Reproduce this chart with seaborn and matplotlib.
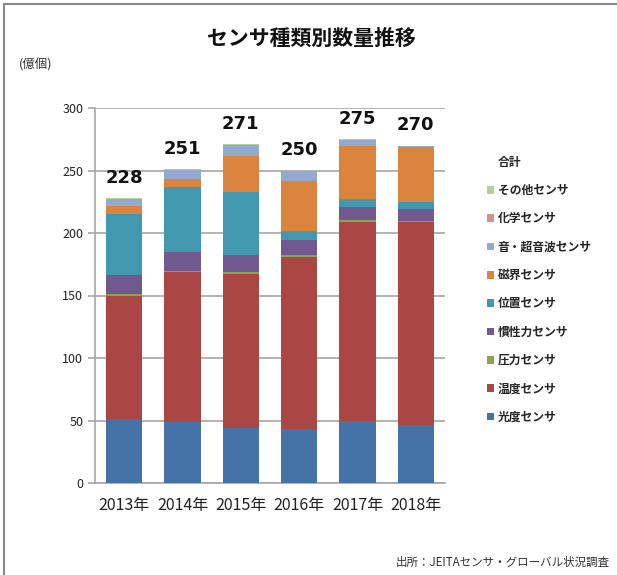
import matplotlib
matplotlib.use("Agg")
import matplotlib.pyplot as plt
from matplotlib.patches import Patch
from matplotlib.lines import Line2D
import numpy as np
import pandas as pd
import seaborn as sns

sns.set_theme(style="white")
plt.rcParams['font.family'] = ['Noto Sans CJK JP', 'DejaVu Sans']

years = ["2013年", "2014年", "2015年", "2016年", "2017年", "2018年"]
series_names = ["光度センサ", "温度センサ", "圧力センサ", "慣性力センサ", "位置センサ",
                "磁界センサ", "音・超音波センサ", "化学センサ", "その他センサ"]
light = [51, 48.5, 44, 43, 50, 46.5]
temperature = [99, 120, 123, 138, 159, 162]
pressure = [1.5, 1.5, 1.5, 1.5, 1.5, 1.5]
inertia = [15, 14.5, 14, 12, 10, 9]
position = [49, 52, 50, 7, 6.5, 5.5]
magnetic = [6.5, 7, 29.5, 40, 43, 44]
sound = [5, 7, 8.5, 8, 4.5, 1]
chemical = [0.5, 0.3, 0.3, 0.3, 0.3, 0.3]
other = [0.5, 0.2, 0.2, 0.2, 0.2, 0.2]
totals = [228, 251, 271, 250, 275, 270]
colors = ["#4572A7", "#AA4643", "#89A54E", "#71588F", "#4198AF",
          "#DB843D", "#93A9CF", "#D19392", "#B9CD96"]

series = [light, temperature, pressure, inertia, position, magnetic, sound, chemical, other]
cum = np.cumsum(np.array(series, dtype=float), axis=0)

fig = plt.figure(figsize=(6.17, 5.75), dpi=100)
ax = fig.add_axes([95/617, 1-483/575, 350/617, 375/575])

for i in range(len(series) - 1, -1, -1):
    df = pd.DataFrame({"year": years, "value": cum[i]})
    sns.barplot(data=df, x="year", y="value", color=colors[i], saturation=1,
                width=0.62, ax=ax, linewidth=0, zorder=3)

for j, t in enumerate(totals):
    ax.text(j, t + 9, str(t), ha="center", va="bottom", fontsize=13,
            fontweight="bold", color="#111111", family=['DejaVu Sans'])

ax.set_ylim(0, 300)
ax.set_xlim(-0.5, 5.5)
ax.set_yticks(range(0, 301, 50))
ax.set_xlabel("")
ax.set_ylabel("")
ax.grid(axis="y", color="#A6A6A6", linewidth=1.2, zorder=0)
ax.set_axisbelow(True)
for s in ["top", "right"]:
    ax.spines[s].set_visible(False)
for s in ["left", "bottom"]:
    ax.spines[s].set_color("#A6A6A6")
    ax.spines[s].set_linewidth(1.2)
ax.set_xticks([x - 0.5 for x in range(7)], minor=True)
ax.tick_params(axis="x", which="major", length=0, labelsize=11.5, colors="#222222", pad=10)
ax.tick_params(axis="x", which="minor", length=5, width=1.2, color="#A6A6A6", direction="out")
ax.tick_params(axis="y", length=5, width=1.2, color="#A6A6A6", direction="out",
               left=True, labelsize=9, labelcolor="#222222")

handles = [Line2D([], [], linestyle="none", marker=None)]
labels = ["合計"]
for i in range(len(series) - 1, -1, -1):
    handles.append(Patch(facecolor=colors[i], edgecolor="none"))
    labels.append(series_names[i])
leg = fig.legend(handles, labels, loc="upper left", bbox_to_anchor=(476/617, 1-145/575),
                 frameon=False, handlelength=0.6, handleheight=0.6, handletextpad=0.35,
                 labelspacing=1.30, prop={"size": 8.5, "weight": "bold",
                                          "family": ["Noto Sans CJK JP", "DejaVu Sans"]})

fig.text(0.505, 1-38/575, "センサ種類別数量推移", ha="center", va="center",
         fontsize=15, fontweight="bold", color="#111111")
fig.text(19/617, 1-65/575, "(億個)", ha="left", va="center", fontsize=9, color="#333333")
fig.text(610/617, 1-562/575, "出所：JEITAセンサ・グローバル状況調査", ha="right", va="center",
         fontsize=8.3, color="#333333")

fig.add_artist(Line2D([4/617, 4/617], [0, 1-4/575], transform=fig.transFigure,
                      color="#888888", linewidth=1.5))
fig.add_artist(Line2D([4/617, 1], [1-4/575, 1-4/575], transform=fig.transFigure,
                      color="#888888", linewidth=1.5))

fig.savefig("out.png", dpi=100)
